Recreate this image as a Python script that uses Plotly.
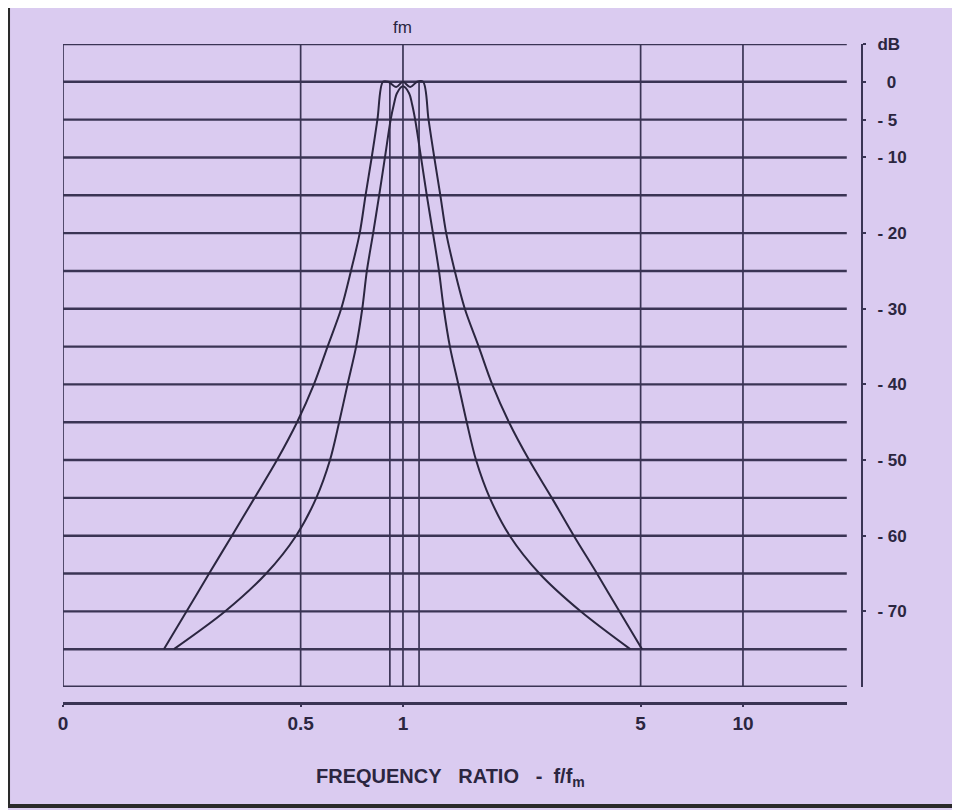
import plotly.graph_objects as go

# horizontal rows of the chart, dB
row_db = list(range(5, -85, -5))

# vertical lines, frequency ratio f/fm
full_lines = [0.1, 0.5, 5, 10]
band_lines = [0.915, 1.115]
fm = 1.0

# wide response (flat top with ripple)
wide_db = [-75, -70, -65, -60, -55, -50, -45, -40, -35, -30, -25, -20, -15, -10, -5, 0]
wide_lo = [0.198, 0.231, 0.269, 0.314, 0.366, 0.426, 0.488, 0.547, 0.600, 0.658, 0.703, 0.746, 0.776, 0.809, 0.841, 0.873]
wide_hi = [5.05, 4.33, 3.72, 3.18, 2.74, 2.35, 2.05, 1.83, 1.67, 1.52, 1.42, 1.34, 1.288, 1.236, 1.189, 1.146]
wide_top_f = [0.905, 0.955, 1.0, 1.05, 1.10]
wide_top_db = [0, -0.7, 0, -0.7, 0]

# narrow response (rounded top)
narrow_db = [-75, -70, -65, -60, -55, -50, -45, -40, -35, -30, -25, -20, -15, -10, -5, -3, -1.5]
narrow_lo = [0.212, 0.300, 0.396, 0.485, 0.556, 0.610, 0.649, 0.687, 0.728, 0.759, 0.783, 0.817, 0.851, 0.885, 0.920, 0.940, 0.960]
narrow_hi = [4.66, 3.33, 2.52, 2.06, 1.80, 1.64, 1.54, 1.455, 1.374, 1.318, 1.276, 1.225, 1.175, 1.13, 1.086, 1.064, 1.042]
narrow_peak_db = -0.6

# axis labels
x_tickvals = [0.1, 0.5, 1, 5, 10]
x_ticktext = ["0", "0.5", "1", "5", "10"]
y_tickvals = [5, 0, -5, -10, -20, -30, -40, -50, -60, -70]
y_ticktext = ["dB", "\u00a0\u00a00", "- 5", "- 10", "- 20", "- 30", "- 40", "- 50", "- 60", "- 70"]

BG = "#dacbf0"
INK = "#2b2640"
GRID = "#3a3454"
X_END = 20.2
FONT = "Liberation Sans, Arial, sans-serif"

fig = go.Figure()

# horizontal lines
for db in row_db:
    fig.add_trace(go.Scatter(
        x=[0.1, X_END], y=[db, db], mode="lines",
        line=dict(color=GRID, width=3 if db == -80 else 2.4),
        hoverinfo="skip", showlegend=False))

# vertical lines
vx, vy = [], []
for f in full_lines:
    vx += [f, f, None]
    vy += [5, -80, None]
for f in band_lines:
    vx += [f, f, None]
    vy += [0, -80, None]
vx += [fm, fm]
vy += [5.6, -80]
fig.add_trace(go.Scatter(x=vx, y=vy, mode="lines", line=dict(color=GRID, width=1.7),
                         hoverinfo="skip", showlegend=False, cliponaxis=False))

# wide curve
wx = wide_lo + wide_top_f + wide_hi[::-1]
wy = wide_db + wide_top_db + wide_db[::-1]
fig.add_trace(go.Scatter(x=wx, y=wy, mode="lines",
                         line=dict(color=INK, width=2, shape="spline", smoothing=0.9),
                         showlegend=False))

# narrow curve
nx = narrow_lo + [fm] + narrow_hi[::-1]
ny = narrow_db + [narrow_peak_db] + narrow_db[::-1]
fig.add_trace(go.Scatter(x=nx, y=ny, mode="lines",
                         line=dict(color=INK, width=2, shape="spline", smoothing=0.9),
                         showlegend=False))

# the page body has an 8px margin, so the figure is shifted back by 8px
fig.update_layout(
    width=952, height=802,
    margin=dict(l=55, r=98, t=36, b=107),
    paper_bgcolor=BG, plot_bgcolor=BG,
    font=dict(family=FONT, color=INK),
    xaxis=dict(
        type="log", range=[-1, 1.306], domain=[0, 784 / 799],
        anchor="free", position=0,
        tickvals=x_tickvals, ticktext=x_ticktext,
        tickfont=dict(size=19, family=FONT, weight="bold"),
        showgrid=False, zeroline=False,
        showline=True, linecolor=GRID, linewidth=3,
        ticks="outside", ticklen=2, tickwidth=2, tickcolor=GRID,
    ),
    yaxis=dict(
        range=[-80, 5], domain=[16 / 659, 1],
        anchor="free", position=1, side="right",
        tickvals=y_tickvals, ticktext=y_ticktext,
        tickfont=dict(size=17, family=FONT, weight="bold"),
        ticklabelstandoff=8,
        showgrid=False, zeroline=False,
        showline=True, linecolor=GRID, linewidth=2,
        ticks="outside", ticklen=3, tickwidth=2, tickcolor=GRID,
    ),
    shapes=[
        dict(type="rect", xref="paper", yref="paper",
             x0=-0.0688, x1=1.1189, y0=-0.1563, y1=1.0607,
             line=dict(color="#2a2a2a", width=4), layer="below"),
    ],
    annotations=[
        dict(text="fm", x=0, xref="x", y=1.0243, yref="paper",
             xanchor="center", yanchor="middle",
             showarrow=False, font=dict(size=17, color=INK)),
        dict(text="FREQUENCY\u00a0\u00a0\u00a0RATIO\u00a0\u00a0\u00a0-\u00a0\u00a0f/f<sub>m</sub>",
             x=0.4844, xref="paper", y=-0.1123, yref="paper",
             xanchor="center", yanchor="middle",
             showarrow=False, font=dict(size=20, color=INK, weight="bold")),
    ],
)

fig.write_html("out.html")
